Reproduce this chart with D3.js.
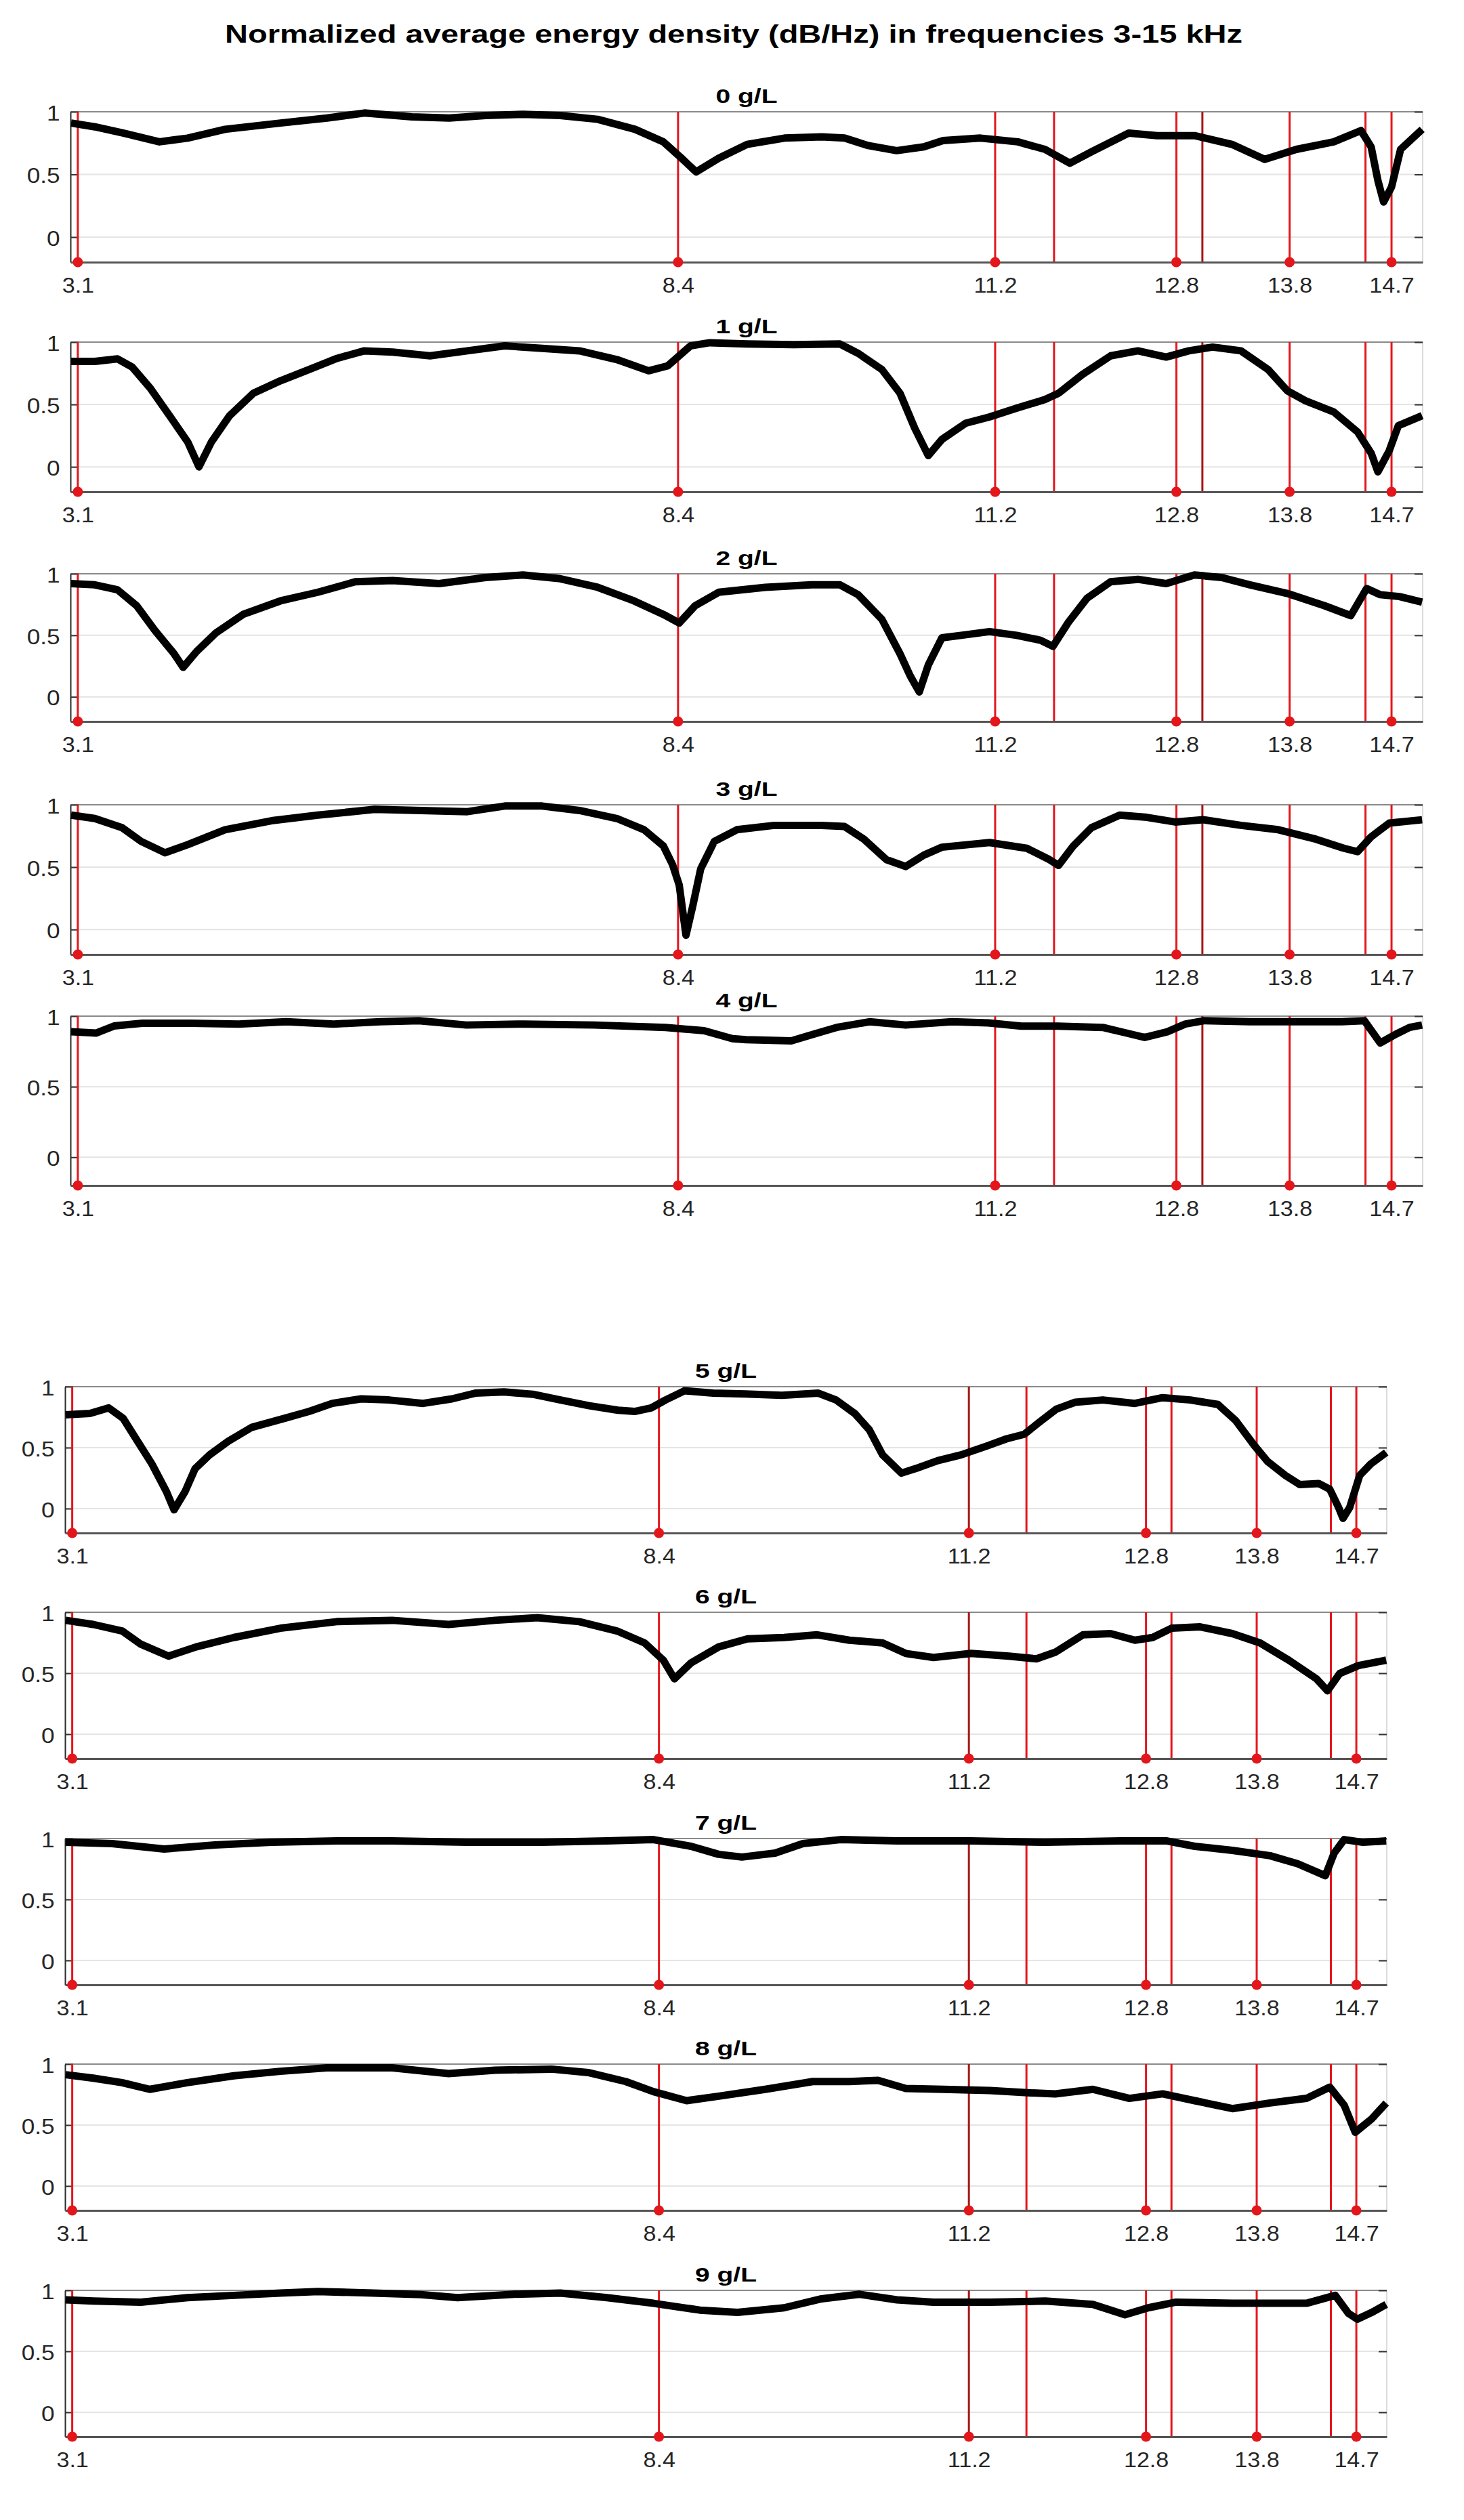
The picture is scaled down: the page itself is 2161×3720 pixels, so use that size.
<!DOCTYPE html>
<html>
<head>
<meta charset="utf-8">
<script src="https://cdn.jsdelivr.net/npm/d3@7"></script>
<style>
  body { margin: 0; background: #fff; }
  text { font-family: "Liberation Sans", Arial, Helvetica, sans-serif; }
</style>
</head>
<body>
<div id="chart"></div>
<script>
var title = "Normalized average energy density (dB/Hz) in frequencies 3-15 kHz";
var panelNames = ["0 g/L", "1 g/L", "2 g/L", "3 g/L", "4 g/L", "5 g/L", "6 g/L", "7 g/L", "8 g/L", "9 g/L"];
var markedFreqs = [3.1, 8.4, 11.2, 12.8, 13.8, 14.7];   // red stems with a dot + tick label
var plainFreqs = [11.72, 13.03, 14.47];                // red stems without dot
var yTicks = [0, 0.5, 1];

// [frequency kHz, normalized energy]
var s0 = [[3.04,0.91],[3.25,0.88],[3.5,0.83],[3.82,0.76],[4.07,0.79],[4.4,0.86],[4.89,0.91],[5.3,0.95],[5.63,0.99],[6.05,0.96],[6.38,0.95],[6.7,0.97],[7.03,0.98],[7.36,0.97],[7.69,0.94],[8.02,0.86],[8.27,0.76],[8.43,0.63],[8.56,0.52],[8.76,0.63],[9.01,0.74],[9.34,0.79],[9.67,0.8],[9.87,0.79],[10.08,0.73],[10.33,0.69],[10.57,0.72],[10.74,0.77],[11.07,0.79],[11.4,0.76],[11.64,0.7],[11.86,0.59],[12.05,0.68],[12.38,0.83],[12.63,0.81],[12.96,0.81],[13.29,0.74],[13.58,0.62],[13.86,0.7],[14.19,0.76],[14.43,0.85],[14.52,0.72],[14.58,0.45],[14.63,0.28],[14.7,0.4],[14.78,0.7],[14.97,0.86]];
var s1 = [[3.04,0.845],[3.25,0.845],[3.45,0.866],[3.58,0.8],[3.74,0.63],[3.91,0.41],[4.07,0.2],[4.17,0.0],[4.28,0.2],[4.44,0.41],[4.65,0.59],[4.89,0.69],[5.14,0.78],[5.39,0.87],[5.63,0.93],[5.88,0.92],[6.21,0.89],[6.54,0.93],[6.87,0.97],[7.2,0.95],[7.53,0.93],[7.86,0.86],[8.14,0.77],[8.31,0.81],[8.51,0.97],[8.68,0.995],[9.01,0.985],[9.42,0.98],[9.83,0.985],[9.99,0.91],[10.2,0.78],[10.36,0.59],[10.49,0.31],[10.61,0.09],[10.73,0.22],[10.94,0.35],[11.15,0.4],[11.39,0.47],[11.64,0.54],[11.76,0.59],[11.97,0.74],[12.22,0.89],[12.46,0.93],[12.71,0.88],[12.91,0.93],[13.12,0.96],[13.37,0.93],[13.61,0.78],[13.78,0.61],[13.94,0.53],[14.19,0.44],[14.4,0.28],[14.52,0.11],[14.58,-0.04],[14.68,0.13],[14.76,0.33],[14.97,0.41]];
var s2 = [[3.04,0.92],[3.25,0.91],[3.45,0.87],[3.62,0.74],[3.78,0.54],[3.95,0.35],[4.03,0.24],[4.15,0.37],[4.32,0.52],[4.56,0.67],[4.89,0.78],[5.22,0.85],[5.55,0.935],[5.88,0.945],[6.29,0.92],[6.7,0.97],[7.03,0.99],[7.36,0.96],[7.69,0.89],[8.01,0.78],[8.27,0.67],[8.41,0.6],[8.55,0.74],[8.76,0.85],[9.17,0.89],[9.58,0.91],[9.83,0.91],[9.99,0.83],[10.2,0.63],[10.36,0.35],[10.45,0.17],[10.53,0.04],[10.61,0.26],[10.73,0.48],[10.9,0.5],[11.15,0.53],[11.39,0.5],[11.6,0.46],[11.71,0.41],[11.85,0.61],[12.01,0.8],[12.22,0.935],[12.46,0.955],[12.71,0.92],[12.96,0.99],[13.2,0.97],[13.45,0.91],[13.78,0.84],[14.11,0.74],[14.34,0.66],[14.48,0.88],[14.6,0.83],[14.77,0.815],[14.97,0.77]];
var s3 = [[3.04,0.917],[3.25,0.89],[3.49,0.817],[3.66,0.706],[3.87,0.615],[4.07,0.68],[4.4,0.8],[4.81,0.872],[5.22,0.917],[5.72,0.963],[6.13,0.954],[6.54,0.945],[6.87,0.99],[7.2,0.99],[7.53,0.954],[7.86,0.89],[8.1,0.8],[8.27,0.67],[8.35,0.523],[8.41,0.358],[8.47,-0.046],[8.53,0.19],[8.6,0.486],[8.72,0.706],[8.92,0.8],[9.25,0.835],[9.67,0.835],[9.87,0.826],[10.04,0.725],[10.24,0.56],[10.41,0.505],[10.57,0.596],[10.73,0.66],[11.15,0.697],[11.48,0.651],[11.68,0.56],[11.76,0.514],[11.89,0.67],[12.05,0.816],[12.3,0.917],[12.54,0.899],[12.79,0.862],[13.04,0.88],[13.37,0.835],[13.7,0.8],[14.03,0.725],[14.28,0.651],[14.4,0.624],[14.52,0.743],[14.68,0.853],[14.97,0.88]];
var s4 = [[3.04,0.89],[3.26,0.88],[3.42,0.93],[3.67,0.95],[4.1,0.95],[4.52,0.944],[4.94,0.96],[5.36,0.944],[5.77,0.96],[6.11,0.968],[6.53,0.937],[7.04,0.944],[7.66,0.937],[8.29,0.92],[8.63,0.897],[8.88,0.84],[9.0,0.833],[9.4,0.825],[9.6,0.873],[9.8,0.92],[10.09,0.96],[10.41,0.937],[10.82,0.96],[11.14,0.952],[11.43,0.929],[11.75,0.929],[12.15,0.92],[12.36,0.88],[12.52,0.849],[12.72,0.889],[12.88,0.944],[13.05,0.968],[13.45,0.96],[13.85,0.96],[14.26,0.96],[14.46,0.968],[14.6,0.81],[14.74,0.873],[14.86,0.92],[14.97,0.937]];
var s5 = [[3.04,0.77],[3.26,0.78],[3.43,0.826],[3.56,0.74],[3.69,0.553],[3.82,0.366],[3.95,0.141],[4.02,-0.01],[4.12,0.141],[4.21,0.328],[4.34,0.44],[4.51,0.553],[4.72,0.666],[5.02,0.741],[5.24,0.797],[5.45,0.863],[5.71,0.9],[5.96,0.891],[6.27,0.863],[6.53,0.9],[6.74,0.947],[7.0,0.957],[7.26,0.938],[7.51,0.891],[7.77,0.844],[8.03,0.807],[8.18,0.797],[8.33,0.826],[8.46,0.891],[8.63,0.966],[8.89,0.947],[9.18,0.94],[9.51,0.929],[9.84,0.947],[10.0,0.891],[10.17,0.779],[10.3,0.647],[10.42,0.441],[10.59,0.291],[10.75,0.338],[10.92,0.394],[11.13,0.441],[11.37,0.516],[11.54,0.572],[11.7,0.61],[11.83,0.704],[11.99,0.816],[12.16,0.872],[12.41,0.891],[12.7,0.863],[12.95,0.91],[13.2,0.891],[13.45,0.854],[13.61,0.722],[13.78,0.516],[13.9,0.385],[14.06,0.272],[14.19,0.197],[14.36,0.206],[14.46,0.159],[14.54,0.009],[14.58,-0.08],[14.64,0.009],[14.73,0.272],[14.83,0.366],[14.97,0.46]];
var s6 = [[3.04,0.934],[3.29,0.9],[3.55,0.847],[3.72,0.738],[3.97,0.64],[4.22,0.716],[4.56,0.793],[4.98,0.869],[5.49,0.923],[5.99,0.934],[6.5,0.9],[6.92,0.934],[7.3,0.956],[7.68,0.923],[8.02,0.847],[8.27,0.749],[8.44,0.607],[8.54,0.454],[8.69,0.585],[8.94,0.716],[9.2,0.782],[9.53,0.793],[9.83,0.815],[10.12,0.771],[10.42,0.749],[10.63,0.662],[10.88,0.629],[11.22,0.662],[11.56,0.64],[11.81,0.618],[11.98,0.672],[12.23,0.815],[12.48,0.825],[12.7,0.771],[12.86,0.793],[13.03,0.869],[13.29,0.88],[13.58,0.825],[13.83,0.749],[14.09,0.607],[14.34,0.454],[14.44,0.356],[14.55,0.498],[14.72,0.563],[14.97,0.607]];
var s7 = [[3.04,0.969],[3.46,0.958],[3.93,0.914],[4.39,0.947],[4.9,0.969],[5.49,0.98],[5.99,0.98],[6.67,0.969],[7.34,0.969],[7.93,0.98],[8.35,0.991],[8.69,0.936],[8.94,0.87],[9.15,0.848],[9.45,0.881],[9.7,0.958],[10.04,0.991],[10.55,0.98],[11.22,0.98],[11.89,0.969],[12.57,0.98],[12.99,0.98],[13.24,0.936],[13.58,0.903],[13.92,0.859],[14.17,0.793],[14.42,0.695],[14.5,0.881],[14.59,0.991],[14.76,0.969],[14.97,0.98]];
var s8 = [[3.04,0.913],[3.29,0.885],[3.55,0.848],[3.8,0.793],[4.14,0.848],[4.56,0.904],[4.98,0.941],[5.4,0.969],[5.99,0.969],[6.5,0.922],[6.92,0.95],[7.43,0.959],[7.76,0.931],[8.1,0.857],[8.35,0.774],[8.65,0.7],[8.94,0.737],[9.36,0.793],[9.79,0.857],[10.12,0.857],[10.38,0.867],[10.63,0.8],[10.97,0.793],[11.39,0.783],[11.73,0.765],[11.98,0.756],[12.32,0.793],[12.65,0.719],[12.95,0.756],[13.24,0.7],[13.58,0.635],[13.92,0.681],[14.25,0.719],[14.46,0.811],[14.59,0.663],[14.69,0.441],[14.84,0.552],[14.97,0.681]];
var s9 = [[3.04,0.922],[3.29,0.912],[3.72,0.903],[4.14,0.94],[4.56,0.959],[4.98,0.978],[5.32,0.99],[5.82,0.978],[6.25,0.965],[6.58,0.94],[7.09,0.968],[7.51,0.978],[7.93,0.94],[8.35,0.894],[8.77,0.838],[9.11,0.819],[9.53,0.857],[9.87,0.931],[10.21,0.968],[10.55,0.922],[10.88,0.903],[11.39,0.903],[11.89,0.912],[12.32,0.885],[12.61,0.8],[12.82,0.857],[13.07,0.903],[13.58,0.894],[14.25,0.894],[14.51,0.959],[14.63,0.81],[14.71,0.764],[14.84,0.819],[14.97,0.885]];
var allSeries = [s0, s1, s2, s3, s4, s5, s6, s7, s8, s9];

var W = 2161, H = 3720;
var xDomain = [3.035, 14.975];
var yDomain = [-0.2, 1];

// panel boxes (pixels): the figure is two stacked screenshots with slightly different frames
var frames = [
  {left: 104, right: 2100, top: 165,  bottom: 387,  dark: 13.03},
  {left: 104, right: 2100, top: 505,  bottom: 726,  dark: 13.03},
  {left: 104, right: 2100, top: 847,  bottom: 1065, dark: 13.03},
  {left: 104, right: 2100, top: 1188, bottom: 1409, dark: 13.03},
  {left: 104, right: 2100, top: 1500, bottom: 1750, dark: 13.03},
  {left: 96,  right: 2047, top: 2047, bottom: 2263, dark: 11.2},
  {left: 96,  right: 2047, top: 2380, bottom: 2596, dark: 11.2},
  {left: 96,  right: 2047, top: 2714, bottom: 2930, dark: 11.2},
  {left: 96,  right: 2047, top: 3047, bottom: 3263, dark: 11.2},
  {left: 96,  right: 2047, top: 3381, bottom: 3597, dark: 11.2}
];

var svg = d3.select("#chart").append("svg")
  .attr("width", W)
  .attr("height", H);

svg.append("rect").attr("width", W).attr("height", H).attr("fill", "#fff");

svg.append("text")
  .attr("x", 1083)
  .attr("y", 63)
  .attr("text-anchor", "middle")
  .attr("font-size", 37)
  .attr("font-weight", "bold")
  .attr("textLength", 1502)
  .attr("lengthAdjust", "spacingAndGlyphs")
  .text(title);

frames.forEach(function(f, i) {
  var x = d3.scaleLinear().domain(xDomain).range([f.left, f.right]);
  var y = d3.scaleLinear().domain(yDomain).range([f.bottom, f.top]);
  var g = svg.append("g");

  // grid lines
  g.selectAll(".grid").data([0, 0.5]).enter().append("line")
    .attr("x1", f.left).attr("x2", f.right)
    .attr("y1", function(d) { return y(d); })
    .attr("y2", function(d) { return y(d); })
    .attr("stroke", "#e4e4e4").attr("stroke-width", 2);

  // box top and right
  g.append("line").attr("x1", f.left).attr("x2", f.right)
    .attr("y1", y(1)).attr("y2", y(1))
    .attr("stroke", "#8a8a8a").attr("stroke-width", 2);
  g.append("line").attr("x1", f.right).attr("x2", f.right)
    .attr("y1", f.top).attr("y2", f.bottom)
    .attr("stroke", "#cfcfcf").attr("stroke-width", 1.5);

  // right mirrored ticks
  var right = g.append("g").attr("transform", "translate(" + f.right + ",0)")
    .call(d3.axisRight(y).tickValues(yTicks).tickSize(-12).tickSizeOuter(0).tickFormat(""));
  right.select(".domain").remove();
  right.selectAll("line").attr("stroke", "#333").attr("stroke-width", 2);

  // left axis
  var left = g.append("g").attr("transform", "translate(" + f.left + ",0)")
    .call(d3.axisLeft(y).tickValues(yTicks).tickSize(-12).tickSizeOuter(0)
      .tickPadding(14).tickFormat(d3.format("")));
  left.select(".domain").attr("stroke", "#2a2a2a").attr("stroke-width", 2);
  left.selectAll("line").attr("stroke", "#333").attr("stroke-width", 2);
  left.selectAll("text")
    .attr("font-size", 32).attr("fill", "#262626")
    .attr("dy", "0.38em")
    .attr("transform", "scale(1.1,1)");

  // red stems
  var stems = markedFreqs.concat(plainFreqs);
  g.selectAll(".stem").data(stems).enter().append("line")
    .attr("x1", function(d) { return x(d); })
    .attr("x2", function(d) { return x(d); })
    .attr("y1", y(1)).attr("y2", f.bottom)
    .attr("stroke", function(d) { return d === f.dark ? "#a51616" : "#e3161c"; })
    .attr("stroke-width", 3);

  // bottom axis
  var bottom = g.append("g").attr("transform", "translate(0," + f.bottom + ")")
    .call(d3.axisBottom(x).tickValues(markedFreqs).tickSize(0).tickSizeOuter(0)
      .tickPadding(23).tickFormat(d3.format(".1f")));
  bottom.select(".domain").attr("stroke", "#555").attr("stroke-width", 3);
  bottom.selectAll("text")
    .attr("font-size", 31).attr("fill", "#262626")
    .attr("transform", "scale(1.1,1)");

  // stem dots
  g.selectAll(".dot").data(markedFreqs).enter().append("circle")
    .attr("cx", function(d) { return x(d); })
    .attr("cy", f.bottom)
    .attr("r", 7.5)
    .attr("fill", "#e3161c");

  // data curve
  var line = d3.line()
    .x(function(d) { return x(d[0]); })
    .y(function(d) { return y(d[1]); });
  g.append("path")
    .datum(allSeries[i])
    .attr("d", line)
    .attr("fill", "none")
    .attr("stroke", "#000")
    .attr("stroke-width", 11)
    .attr("stroke-linejoin", "round");

  // panel title
  g.append("text")
    .attr("transform", "translate(" + ((f.left + f.right) / 2) + "," + (f.top - 13) + ") scale(1.3,1)")
    .attr("text-anchor", "middle")
    .attr("font-size", 30)
    .attr("font-weight", "bold")
    .text(panelNames[i]);
});
</script>
</body>
</html>
